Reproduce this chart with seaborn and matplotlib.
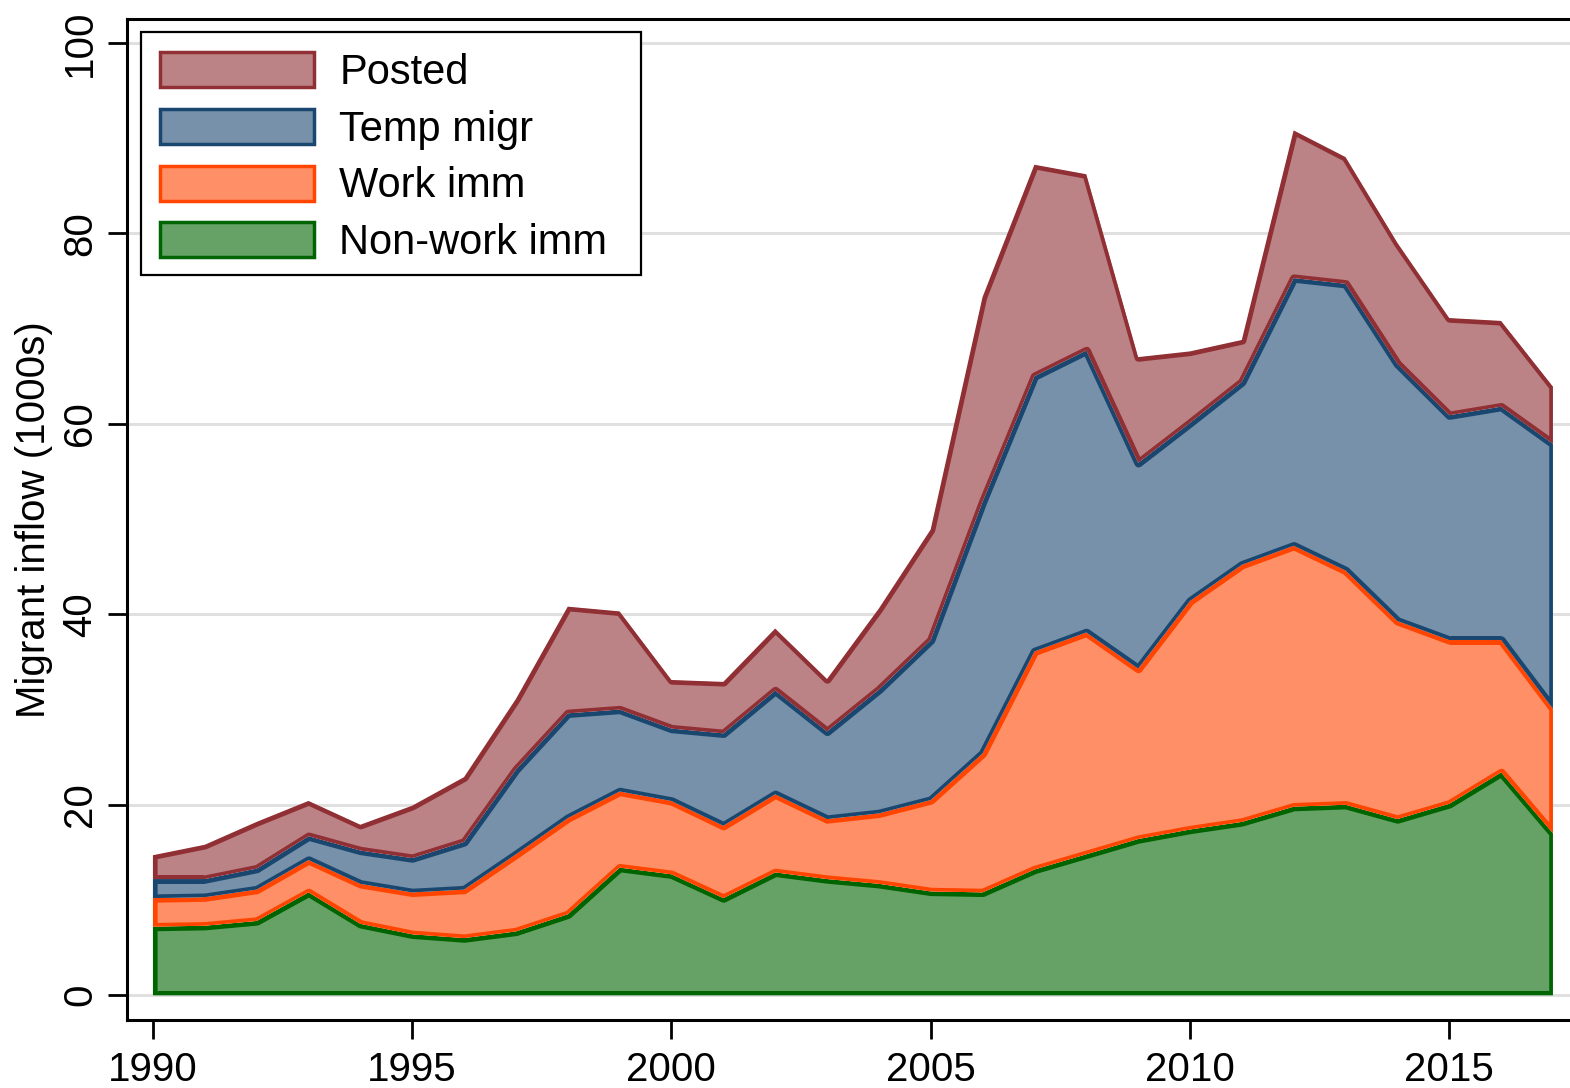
import numpy as np
import matplotlib
matplotlib.use('Agg')
import matplotlib.pyplot as plt
from matplotlib.patches import Patch, Rectangle
from matplotlib.colors import to_rgb
import seaborn as sns

# Migrant inflow by type (1000s)
years = list(range(1990, 2018))
non_work = [7.2, 7.3, 7.8, 10.8, 7.5, 6.4, 6.0, 6.7, 8.5, 13.4, 12.7, 10.2, 12.9, 12.2,
            11.7, 10.9, 10.8, 13.2, 14.8, 16.4, 17.4, 18.2, 19.8, 20.0, 18.5, 20.1, 23.4, 17.0]
work_imm = [3.0, 3.0, 3.3, 3.4, 4.2, 4.4, 5.1, 8.1, 10.1, 8.0, 7.7, 7.6, 8.2, 6.3,
            7.4, 9.6, 14.6, 22.9, 23.3, 17.9, 24.0, 27.0, 27.4, 24.6, 20.8, 17.2, 13.9, 13.1]
temp_migr = [2.0, 1.9, 2.2, 2.5, 3.5, 3.6, 5.0, 8.9, 11.0, 8.6, 7.6, 9.7, 10.9, 9.2,
             13.0, 16.8, 26.4, 28.9, 29.6, 21.6, 18.7, 19.2, 28.1, 30.1, 27.0, 23.6, 24.5, 27.8]
posted = [2.5, 3.6, 4.9, 3.7, 2.7, 5.5, 6.8, 7.4, 11.2, 10.3, 5.1, 5.4, 6.5, 5.5,
          8.5, 11.6, 21.5, 22.2, 18.5, 11.1, 7.5, 4.4, 15.5, 13.3, 12.7, 10.2, 9.0, 6.0]

labels = ['Non-work imm', 'Work imm', 'Temp migr', 'Posted']
edge_colors = ['#006400', '#ff4500', '#1a476f', '#903035']


def lighten(c, a=0.6):
    # colour at 60% intensity over white
    r, g, b = to_rgb(c)
    return (a * r + 1 - a, a * g + 1 - a, a * b + 1 - a)


sns.set_theme(style='white')
plt.rcParams['font.family'] = ['Liberation Sans', 'DejaVu Sans']
plt.rcParams['text.color'] = 'black'
plt.rcParams['axes.labelcolor'] = 'black'
plt.rcParams['xtick.color'] = 'black'
plt.rcParams['ytick.color'] = 'black'

fig = plt.figure(figsize=(15.7, 10.88), dpi=100)
ax = fig.add_axes([127 / 1570, (1088 - 1020) / 1088, (1570 - 127) / 1570, (1020 - 19) / 1088])

# light grid
for g in range(0, 101, 20):
    ax.axhline(g, color='#e0e0e0', lw=2.2, zorder=0)

series = [non_work, work_imm, temp_migr, posted]
lower = np.zeros(len(years))
handles = []
for vals, lab, col in zip(series, labels, edge_colors):
    upper = lower + np.array(vals)
    poly = ax.fill_between(years, lower, upper, facecolor=lighten(col),
                           edgecolor=col, linewidth=6, zorder=2)
    # outline drawn as an inner stroke
    poly.set_clip_path(poly.get_paths()[0], ax.transData)
    handles.append(Patch(facecolor=lighten(col), edgecolor=col, linewidth=2.5))
    lower = upper

ax.set_xlim(1989.5, 2017.33)
ax.set_ylim(-2.6, 102.5)
ax.set_xticks([1990, 1995, 2000, 2005, 2010, 2015])
ax.set_yticks([0, 20, 40, 60, 80, 100])
ax.tick_params(axis='both', direction='out', length=14, width=2, color='black',
               labelsize=29, pad=6, left=True, bottom=True)
ax.tick_params(axis='x', pad=8)
for t in ax.get_yticklabels():
    t.set_rotation(90)
    t.set_va('center')
ax.set_ylabel('Migrant inflow (1000s)', fontsize=29, labelpad=6)

for side in ['left', 'bottom', 'top']:
    ax.spines[side].set_color('black')
    ax.spines[side].set_linewidth(2.2)
ax.spines['right'].set_visible(False)

# legend box drawn by hand, entries placed inside it
ax.add_patch(Rectangle((141 / 1570, 1 - 275 / 1088), 500 / 1570, 243 / 1088,
                       transform=fig.transFigure, facecolor='white', clip_on=False,
                       edgecolor='black', linewidth=1.6, zorder=5))
leg = ax.legend(handles[::-1], labels[::-1], loc='upper left',
                bbox_to_anchor=(160 / 1570, 1 - 52 / 1088), bbox_transform=fig.transFigure,
                borderaxespad=0, borderpad=0,
                fontsize=30, handlelength=3.7, handleheight=0.92, handletextpad=0.6,
                labelspacing=0.38, frameon=False)
leg.set_zorder(6)

fig.savefig('out.png', dpi=100)
